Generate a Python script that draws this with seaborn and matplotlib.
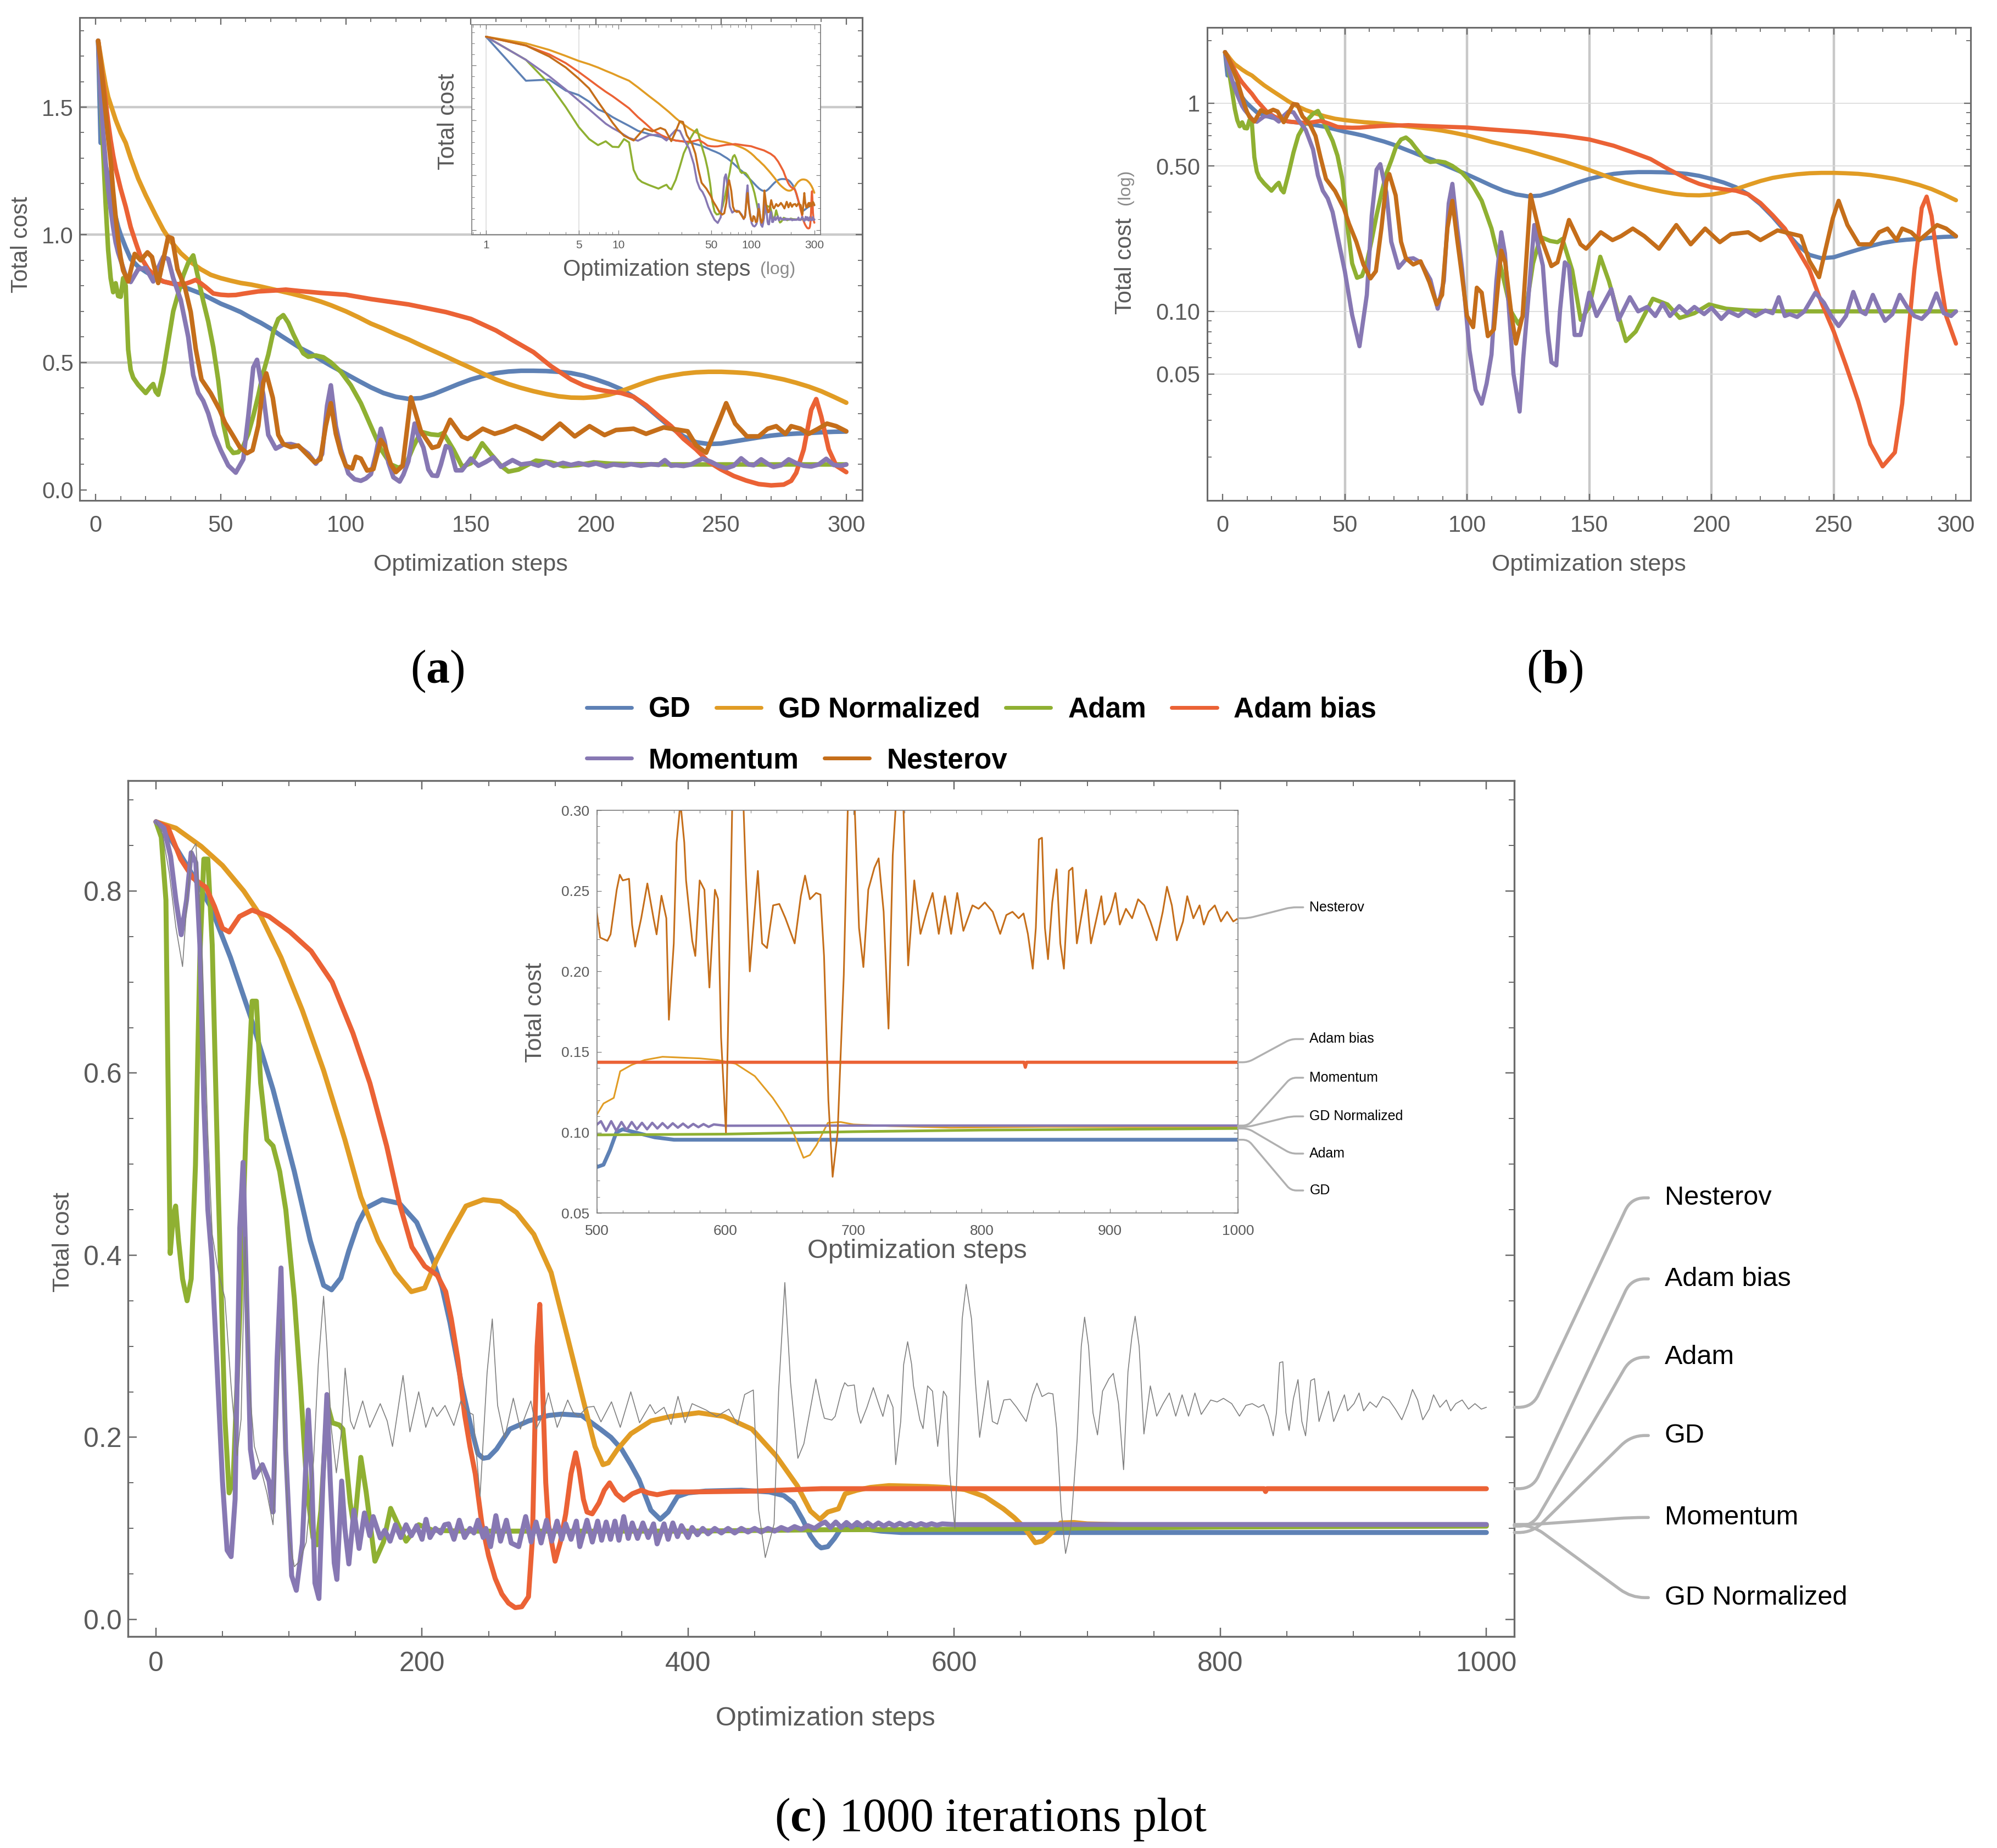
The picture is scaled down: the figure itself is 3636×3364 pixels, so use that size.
import matplotlib
matplotlib.use("Agg")
import matplotlib.pyplot as plt
import seaborn as sns
from matplotlib.lines import Line2D
from matplotlib.ticker import MultipleLocator, FixedLocator, FixedFormatter, NullFormatter, LogLocator

sns.set_theme(style="white")
plt.rcParams["font.family"] = ["Liberation Sans", "DejaVu Sans"]
plt.rcParams["mathtext.fontset"] = "custom"
plt.rcParams["mathtext.rm"] = "Liberation Serif"
plt.rcParams["mathtext.bf"] = "Liberation Serif:bold"

METHODS = ["GD", "GD Normalized", "Adam", "Adam bias", "Momentum", "Nesterov"]
COLORS = ["#5e81b5", "#e19c24", "#8fb032", "#eb6235", "#8778b3", "#c56e1a"]
TEXT = "#5a5a5a"
FRAME = "#6b6b6b"

# ---- 300 step run, panels (a) and (b): (step, total cost)
GD_300 = [(1, 1.76), (2, 1.36), (3, 1.37), (4, 1.27), (5, 1.23), (6, 1.17), (7, 1.10), (8, 1.07), (9, 1.03),
          (10, 1.0), (12, 0.95), (14, 0.905), (17, 0.875), (20, 0.855), (24, 0.832), (27, 0.817), (30, 0.81),
          (34, 0.80), (38, 0.785), (42, 0.77), (46, 0.75), (50, 0.73), (54, 0.714), (58, 0.697), (62, 0.675),
          (66, 0.655), (70, 0.632), (74, 0.605), (78, 0.58), (82, 0.555), (86, 0.535), (90, 0.51), (94, 0.487),
          (100, 0.455), (105, 0.428), (110, 0.402), (115, 0.38), (120, 0.365), (125, 0.357), (130, 0.36),
          (135, 0.375), (140, 0.395), (145, 0.415), (150, 0.433), (155, 0.447), (160, 0.458), (165, 0.464),
          (170, 0.467), (175, 0.467), (180, 0.466), (185, 0.463), (190, 0.458), (195, 0.448), (200, 0.433),
          (205, 0.416), (210, 0.395), (215, 0.365), (220, 0.327), (225, 0.285), (230, 0.244), (235, 0.21),
          (240, 0.187), (245, 0.18), (250, 0.182), (255, 0.19), (260, 0.198), (265, 0.206), (270, 0.213),
          (275, 0.218), (280, 0.221), (285, 0.223), (290, 0.226), (295, 0.228), (300, 0.229)]
GDN_300 = [(1, 1.76), (2, 1.70), (3, 1.64), (4, 1.585), (5, 1.54), (6, 1.51), (7, 1.48), (8, 1.45), (9, 1.425),
           (10, 1.40), (12, 1.36), (14, 1.30), (17, 1.22), (20, 1.155), (24, 1.076), (27, 1.02), (30, 0.975),
           (34, 0.928), (38, 0.893), (42, 0.865), (46, 0.843), (50, 0.83), (54, 0.82), (58, 0.811), (62, 0.805),
           (66, 0.797), (70, 0.788), (74, 0.779), (78, 0.77), (82, 0.76), (86, 0.75), (90, 0.738), (94, 0.724),
           (100, 0.7), (105, 0.677), (110, 0.652), (115, 0.632), (120, 0.61), (125, 0.59), (130, 0.567),
           (135, 0.545), (140, 0.523), (145, 0.5), (150, 0.478), (155, 0.455), (160, 0.433), (165, 0.415),
           (170, 0.4), (175, 0.387), (180, 0.376), (185, 0.367), (190, 0.362), (195, 0.361), (200, 0.364),
           (205, 0.373), (210, 0.387), (215, 0.405), (220, 0.423), (225, 0.438), (230, 0.448), (235, 0.456),
           (240, 0.461), (245, 0.463), (250, 0.463), (255, 0.461), (260, 0.458), (265, 0.452), (270, 0.443),
           (275, 0.433), (280, 0.42), (285, 0.405), (290, 0.387), (295, 0.365), (300, 0.342)]
ADAM_300 = [(1, 1.76), (2, 1.55), (3, 1.33), (4, 1.12), (5, 0.94), (6, 0.83), (7, 0.775), (8, 0.81), (9, 0.76),
            (10, 0.757), (11, 0.83), (12, 0.80), (13, 0.55), (14, 0.47), (15, 0.44), (17, 0.412), (20, 0.38),
            (22, 0.405), (23, 0.415), (24, 0.385), (25, 0.373), (27, 0.46), (29, 0.58), (31, 0.7), (33, 0.77),
            (35, 0.84), (37, 0.89), (39, 0.919), (41, 0.83), (43, 0.74), (45, 0.66), (47, 0.56), (49, 0.43),
            (51, 0.26), (53, 0.17), (55, 0.145), (57, 0.148), (59, 0.172), (61, 0.22), (63, 0.29), (65, 0.37),
            (67, 0.46), (69, 0.53), (71, 0.62), (73, 0.67), (75, 0.685), (77, 0.655), (79, 0.61), (81, 0.57),
            (83, 0.535), (85, 0.522), (88, 0.527), (91, 0.52), (94, 0.5), (98, 0.463), (102, 0.41), (106, 0.34),
            (110, 0.25), (114, 0.16), (118, 0.1), (121, 0.087), (124, 0.1), (127, 0.17), (130, 0.228),
            (134, 0.218), (137, 0.215), (139, 0.223), (143, 0.158), (146.5, 0.091), (150, 0.105), (154.5, 0.183),
            (158, 0.14), (162, 0.095), (165, 0.072), (169, 0.08), (176, 0.115), (182, 0.108), (187, 0.093),
            (193, 0.098), (199, 0.108), (206, 0.103), (215, 0.101), (230, 0.1), (250, 0.1), (270, 0.1), (300, 0.1)]
ADAMB_300 = [(1, 1.76), (2, 1.68), (3, 1.60), (4, 1.52), (5, 1.44), (6, 1.37), (7, 1.31), (8, 1.26), (9, 1.22),
             (10, 1.18), (12, 1.11), (14, 1.03), (16, 0.97), (18, 0.913), (21, 0.865), (24, 0.835), (27, 0.817),
             (31, 0.808), (35, 0.805), (38, 0.815), (40, 0.823), (42, 0.81), (44, 0.795), (47, 0.77), (50, 0.765),
             (53, 0.763), (56, 0.764), (59, 0.769), (65, 0.778), (72, 0.782), (76, 0.785), (82, 0.779),
             (90, 0.772), (100, 0.765), (110, 0.748), (125, 0.727), (140, 0.697), (150, 0.67), (160, 0.625),
             (167, 0.585), (175, 0.54), (182, 0.485), (190, 0.433), (195, 0.41), (200, 0.395), (205, 0.386),
             (210, 0.38), (215, 0.365), (220, 0.332), (225, 0.29), (230, 0.25), (235, 0.2), (240, 0.159),
             (245, 0.11), (250, 0.08), (255, 0.055), (260, 0.037), (265, 0.023), (270, 0.018), (275, 0.021),
             (278, 0.036), (280, 0.067), (283, 0.159), (286, 0.314), (288, 0.356), (290, 0.288), (293, 0.159),
             (296, 0.095), (300, 0.07)]
MOM_300 = [(1, 1.76), (2, 1.55), (3, 1.40), (4, 1.28), (5, 1.18), (6, 1.10), (7, 1.03), (8, 0.97), (9, 0.93),
           (10, 0.90), (12, 0.84), (14, 0.815), (17, 0.865), (20, 0.87), (23, 0.817), (25, 0.87), (27, 0.913),
           (29, 0.905), (31, 0.83), (34, 0.745), (37, 0.6), (39, 0.45), (41, 0.38), (43, 0.349), (45, 0.3),
           (47.5, 0.216), (50, 0.156), (53, 0.096), (56, 0.068), (59, 0.12), (61, 0.288), (63, 0.48),
           (64.5, 0.51), (67, 0.373), (69, 0.216), (72, 0.162), (75, 0.178), (78, 0.18), (81, 0.172),
           (85, 0.142), (88, 0.103), (90.5, 0.14), (92.5, 0.33), (94, 0.41), (96, 0.25), (98, 0.159),
           (101, 0.065), (103.5, 0.042), (106, 0.036), (108, 0.045), (110, 0.062), (112, 0.14), (114, 0.24),
           (115.5, 0.19), (117, 0.108), (119, 0.05), (121.5, 0.033), (123, 0.06), (125, 0.113), (127.5, 0.26),
           (129, 0.21), (131, 0.166), (133, 0.08), (134.5, 0.057), (136.5, 0.055), (138, 0.1), (140, 0.172),
           (141.7, 0.164), (144, 0.077), (146.4, 0.077), (150, 0.123), (153, 0.095), (156, 0.11), (159, 0.128),
           (162, 0.091), (166.6, 0.117), (170, 0.1), (173.7, 0.105), (177, 0.095), (180, 0.109), (183, 0.095),
           (186.8, 0.106), (190, 0.098), (193, 0.105), (197, 0.097), (200, 0.104), (204, 0.092), (207, 0.1),
           (211, 0.095), (214, 0.101), (218, 0.095), (222, 0.101), (225, 0.098), (227.5, 0.117), (230, 0.095),
           (232, 0.097), (235, 0.094), (238, 0.1), (242.5, 0.123), (246, 0.11), (249, 0.095), (252, 0.085),
           (255, 0.095), (258, 0.124), (261, 0.1), (263, 0.097), (266, 0.12), (269, 0.1), (271, 0.09),
           (274, 0.097), (277, 0.12), (280, 0.105), (283, 0.095), (286, 0.092), (289, 0.1), (292, 0.122),
           (295, 0.098), (298, 0.095), (300, 0.1)]
NEST_300 = [(1, 1.76), (2, 1.68), (3, 1.58), (4, 1.48), (5, 1.38), (6, 1.29), (7, 1.17), (8, 1.07), (9, 0.98),
            (10, 0.91), (11, 0.86), (13, 0.817), (15.6, 0.925), (18, 0.9), (20.7, 0.931), (22.5, 0.913),
            (25, 0.811), (27, 0.9), (29, 0.992), (30.6, 0.986), (32.7, 0.865), (35.7, 0.793), (38, 0.697),
            (40, 0.553), (42.3, 0.433), (46, 0.379), (49.6, 0.313), (51.7, 0.264), (54.7, 0.216), (57.6, 0.168),
            (60.5, 0.144), (62.7, 0.156), (65, 0.252), (67, 0.421), (68.2, 0.457), (70.8, 0.361), (73, 0.216),
            (75, 0.18), (78, 0.168), (81, 0.174), (84.6, 0.138), (87.6, 0.108), (89.8, 0.12), (92, 0.252),
            (94, 0.34), (96, 0.22), (98, 0.146), (100, 0.095), (102.5, 0.084), (104, 0.13), (106, 0.123),
            (108.5, 0.076), (111, 0.082), (114, 0.196), (115.6, 0.172), (118, 0.1), (120, 0.07), (122.7, 0.095),
            (126, 0.363), (130, 0.23), (134.5, 0.165), (137, 0.172), (141.7, 0.275), (146.4, 0.21),
            (148.7, 0.2), (154.7, 0.24), (159.5, 0.22), (163, 0.23), (167.8, 0.25), (172.5, 0.23),
            (178.5, 0.2), (185.6, 0.26), (191.5, 0.21), (197.4, 0.25), (203.4, 0.215), (208, 0.235),
            (215, 0.24), (220, 0.22), (227, 0.245), (236.6, 0.23), (240, 0.175), (244, 0.146), (249.6, 0.28),
            (252, 0.34), (255.6, 0.26), (260.3, 0.21), (265, 0.21), (268.6, 0.24), (272, 0.25), (275.7, 0.22),
            (278, 0.25), (281.7, 0.24), (285, 0.22), (288.8, 0.24), (292.3, 0.26), (296, 0.25), (300, 0.23)]

# ---- 1000 step run, panel (c)
GD_1K = [(0, 0.876), (9, 0.862), (25, 0.824), (41, 0.783), (56, 0.727), (72, 0.658), (88, 0.582), (104, 0.492),
         (116, 0.416), (126, 0.367), (132, 0.362), (139, 0.375), (145, 0.405), (152, 0.435), (158, 0.452),
         (170, 0.461), (183, 0.457), (196, 0.436), (208, 0.395), (215, 0.365), (221, 0.326), (230, 0.256),
         (237, 0.21), (242, 0.182), (246, 0.177), (250, 0.178), (256, 0.187), (266, 0.209), (280, 0.218),
         (295, 0.224), (305, 0.2255), (320, 0.224), (334, 0.209), (342, 0.2), (350, 0.187), (357, 0.17),
         (363, 0.154), (372, 0.12), (379, 0.11), (385, 0.118), (392, 0.135), (400, 0.139), (413, 0.141),
         (440, 0.142), (461, 0.14), (472, 0.136), (479, 0.128), (486, 0.11), (492, 0.092), (497, 0.082),
         (500, 0.0786), (505, 0.08), (510, 0.089), (515, 0.1), (520, 0.102), (530, 0.1), (545, 0.097),
         (560, 0.0955), (700, 0.0955), (850, 0.0955), (1000, 0.0955)]
GDN_1K = [(0, 0.876), (15, 0.869), (34, 0.849), (50, 0.828), (66, 0.8), (79, 0.772), (94, 0.727), (110, 0.669),
          (126, 0.603), (142, 0.527), (154, 0.464), (167, 0.416), (180, 0.381), (192, 0.36), (202, 0.364),
          (211, 0.395), (221, 0.423), (233, 0.454), (246, 0.461), (259, 0.459), (271, 0.447), (284, 0.423),
          (297, 0.381), (309, 0.312), (322, 0.236), (330, 0.19), (336, 0.17), (340, 0.172), (347, 0.187),
          (357, 0.204), (372, 0.218), (387, 0.223), (408, 0.227), (427, 0.223), (448, 0.209), (466, 0.18),
          (482, 0.147), (492, 0.119), (499, 0.11), (505, 0.118), (513, 0.1215), (518, 0.138), (527, 0.142),
          (537, 0.145), (551, 0.147), (580, 0.146), (594, 0.145), (608, 0.1427), (623, 0.135), (637, 0.1215),
          (645, 0.112), (652, 0.102), (661, 0.0843), (666, 0.086), (671, 0.092), (680, 0.106), (690, 0.1065),
          (700, 0.105), (728, 0.104), (776, 0.103), (850, 0.1035), (1000, 0.1035)]
ADAM_1K = [(0, 0.876), (4, 0.859), (7.5, 0.79), (9, 0.603), (10.7, 0.402), (13, 0.443), (14.8, 0.454),
           (17, 0.416), (20, 0.374), (23.4, 0.35), (26.5, 0.374), (29.7, 0.499), (33, 0.727), (36, 0.835),
           (39, 0.835), (42.3, 0.741), (47, 0.464), (51.8, 0.222), (55, 0.139), (58, 0.152), (62.8, 0.326),
           (67.6, 0.533), (72.3, 0.679), (75.5, 0.679), (78.7, 0.589), (83.4, 0.527), (88, 0.52), (93, 0.492),
           (97.6, 0.45), (104, 0.353), (108.7, 0.256), (113.4, 0.145), (118, 0.09), (121, 0.082), (124, 0.12),
           (128.7, 0.237), (132.6, 0.216), (137.8, 0.2136), (140.5, 0.209), (146, 0.128), (149, 0.1),
           (154, 0.178), (158, 0.14), (164.6, 0.064), (171, 0.085), (176.4, 0.122), (183, 0.101), (188, 0.086),
           (197.5, 0.104), (208, 0.098), (230, 0.097), (300, 0.097), (400, 0.097), (500, 0.0985), (600, 0.099),
           (700, 0.1005), (800, 0.1015), (900, 0.102), (1000, 0.1025)]
ADAMB_1K = [(0, 0.876), (9, 0.87), (18.6, 0.835), (28, 0.814), (37.6, 0.804), (44, 0.783), (50, 0.759),
            (55, 0.755), (62.8, 0.772), (72.3, 0.779), (85, 0.772), (100.8, 0.755), (116.6, 0.734),
            (132.4, 0.7), (148, 0.644), (160.8, 0.589), (173.4, 0.52), (183, 0.457), (192.4, 0.409),
            (202, 0.388), (211.4, 0.378), (217.8, 0.36), (222, 0.33), (227, 0.285), (232, 0.225), (236, 0.19),
            (240, 0.16), (245, 0.105), (250, 0.07), (255, 0.045), (260, 0.028), (265, 0.018), (270, 0.013),
            (275, 0.014), (280, 0.025), (283, 0.09), (285, 0.223), (286.5, 0.3), (288.5, 0.346), (290.5, 0.26),
            (293, 0.15), (295, 0.104), (300, 0.064), (304, 0.085), (308, 0.116), (312, 0.16), (315.5, 0.183),
            (318, 0.165), (321.3, 0.132), (324, 0.118), (327.9, 0.116), (333, 0.128), (337, 0.142),
            (341, 0.15), (346, 0.138), (351.6, 0.131), (358, 0.138), (364.8, 0.142), (370, 0.139),
            (376.7, 0.137), (387, 0.14), (400, 0.14), (450, 0.141), (500, 0.1436), (833, 0.1436),
            (834, 0.1405), (835, 0.1436), (1000, 0.1436)]
MOM_1K = [(0, 0.876), (6, 0.869), (11, 0.838), (15, 0.79), (19, 0.752), (23, 0.79), (26.5, 0.842), (30, 0.831),
          (33, 0.741), (36, 0.568), (39, 0.45), (42, 0.395), (45.5, 0.291), (50, 0.152), (53.5, 0.076),
          (56.5, 0.069), (59.5, 0.132), (63, 0.43), (65.5, 0.502), (67.5, 0.395), (71, 0.187), (74, 0.156),
          (80, 0.17), (85, 0.152), (88, 0.118), (91, 0.284), (94, 0.386), (97.5, 0.187), (102, 0.048),
          (105.5, 0.032), (110, 0.083), (114.5, 0.23), (117, 0.16), (119.5, 0.04), (122.5, 0.023),
          (125.5, 0.152), (128.5, 0.247), (131, 0.152), (134, 0.062), (136, 0.044), (139.6, 0.152), (142, 0.1),
          (145, 0.061), (148.8, 0.12), (152.7, 0.078), (156.7, 0.117), (160.7, 0.092), (163.3, 0.113),
          (168.6, 0.0895), (172, 0.098), (176, 0.086), (180, 0.104), (184, 0.09), (188, 0.104), (192, 0.092),
          (196, 0.103), (200, 0.088), (203, 0.11), (206, 0.09), (210, 0.1), (214, 0.095), (217, 0.104),
          (220, 0.105), (224, 0.088), (228, 0.109), (232, 0.09), (236, 0.1), (239, 0.095), (242, 0.109),
          (246, 0.09), (248, 0.1), (251.5, 0.08), (255.5, 0.114), (259, 0.086), (263.4, 0.109), (267, 0.084),
          (272.6, 0.08), (277.9, 0.113), (282, 0.085), (285.7, 0.107), (289.5, 0.084), (293.6, 0.109),
          (297.5, 0.086), (301.5, 0.108), (305, 0.088), (308, 0.105), (312, 0.088), (316, 0.108),
          (318.6, 0.08), (324, 0.109), (328, 0.085), (332, 0.108), (335, 0.087), (338.4, 0.107),
          (341.7, 0.088), (345, 0.108), (348, 0.087), (351.6, 0.113), (355, 0.089), (358, 0.106),
          (362, 0.089), (366, 0.106), (370, 0.09), (374, 0.105), (376.7, 0.083), (381.9, 0.105), (385, 0.088),
          (388.5, 0.106), (392, 0.091), (395, 0.103), (400, 0.09), (403, 0.101), (407, 0.093), (411, 0.1),
          (415, 0.094), (420, 0.1), (425, 0.095), (430, 0.1), (435, 0.095), (440, 0.1), (445, 0.096),
          (450, 0.1), (455, 0.096), (460, 0.1), (465, 0.097), (470, 0.101), (475, 0.098), (480, 0.102),
          (485, 0.099), (490, 0.103), (495, 0.1), (500, 0.105), (503, 0.107), (507, 0.101), (511, 0.107),
          (515, 0.101), (519, 0.1065), (523, 0.1015), (527, 0.1065), (531, 0.102), (535, 0.106), (539, 0.102),
          (543, 0.106), (547, 0.1025), (551, 0.1058), (555, 0.1027), (559, 0.1057), (563, 0.103),
          (567, 0.1055), (571, 0.103), (575, 0.1053), (579, 0.1033), (583, 0.1052), (587, 0.1035),
          (591, 0.105), (600, 0.1042), (700, 0.1043), (850, 0.1043), (1000, 0.1043)]
NEST_1K = [(0, 0.876), (5, 0.862), (10, 0.82), (15, 0.76), (20, 0.717), (23.4, 0.79), (27, 0.845), (30, 0.852),
           (34.4, 0.748), (39, 0.533), (42.3, 0.423), (47, 0.381), (51.8, 0.353), (56.5, 0.256), (61, 0.18),
           (64, 0.22), (67, 0.42), (70, 0.26), (74, 0.19), (78.7, 0.166), (83.4, 0.139), (88, 0.104), (91, 0.2),
           (94, 0.33), (97.5, 0.17), (100, 0.09), (104, 0.058), (108, 0.064), (113, 0.085), (118.5, 0.175),
           (122, 0.28), (126, 0.355), (128.5, 0.3), (131.9, 0.209), (135.6, 0.161), (139.6, 0.209),
           (142.2, 0.276), (146.2, 0.218), (148.8, 0.209), (155.4, 0.24), (160.7, 0.211), (168.6, 0.237),
           (173.8, 0.218), (177.8, 0.19), (185.7, 0.268), (190.9, 0.206), (197.5, 0.25), (202.8, 0.211),
           (208, 0.233), (211.2, 0.223), (217.3, 0.235), (223.9, 0.213), (229.2, 0.24), (234.4, 0.228),
           (238.4, 0.225), (243.6, 0.135), (248.9, 0.271), (252.8, 0.33), (256.8, 0.235), (262, 0.199),
           (268.6, 0.243), (273.9, 0.209), (281.8, 0.24), (285.8, 0.209), (291, 0.225), (295, 0.249),
           (301.6, 0.211), (309.5, 0.241), (313.4, 0.228), (317.4, 0.223), (324, 0.233), (329.2, 0.234),
           (334.5, 0.217), (342.4, 0.239), (349, 0.211), (356.9, 0.25), (363.5, 0.216), (371.4, 0.236),
           (375.3, 0.226), (381.9, 0.233), (387.2, 0.214), (392.4, 0.245), (397.7, 0.216), (403, 0.237),
           (413.5, 0.23), (421.4, 0.223), (430.6, 0.231), (437.2, 0.214), (442.5, 0.247), (449, 0.252),
           (453, 0.12), (458, 0.068), (464.6, 0.105), (468, 0.25), (472.7, 0.37), (477, 0.26), (482.5, 0.177),
           (487, 0.193), (496, 0.264), (500, 0.235), (502.4, 0.221), (508, 0.219), (510.5, 0.223),
           (515.3, 0.2507), (517.7, 0.26), (520, 0.2565), (524.9, 0.2575), (527.3, 0.229), (529.7, 0.2154),
           (534.4, 0.233), (539.2, 0.2546), (544, 0.233), (546.4, 0.223), (550.2, 0.247), (554, 0.233),
           (556, 0.17), (559.8, 0.2174), (562, 0.28), (565, 0.305), (568, 0.28), (569.4, 0.2565),
           (574.2, 0.219), (576.6, 0.2096), (580, 0.2565), (583.7, 0.2507), (587.6, 0.19), (591.9, 0.2507),
           (594.3, 0.245), (596.7, 0.159), (600.5, 0.1), (603.5, 0.22), (606, 0.33), (609, 0.368),
           (613, 0.33), (616, 0.26), (619.1, 0.2), (625.4, 0.2624), (628.7, 0.2174), (632.5, 0.2145),
           (637.3, 0.241), (642.1, 0.2419), (646.9, 0.233), (654.1, 0.2174), (658.9, 0.2467), (662.2, 0.2595),
           (666, 0.2448), (670.8, 0.2487), (674.2, 0.2477), (677, 0.2096), (680.4, 0.12), (683.7, 0.0725),
           (687.6, 0.1), (692.4, 0.1978), (695.5, 0.3), (698, 0.332), (701, 0.3), (704.3, 0.227),
           (707.7, 0.2027), (711.5, 0.2507), (716.3, 0.2644), (719.6, 0.2702), (723.5, 0.237), (727.3, 0.1645),
           (730.6, 0.272), (733.5, 0.31), (736, 0.333), (739, 0.3), (742.6, 0.2037), (747.4, 0.2565),
           (752.2, 0.2233), (757, 0.237), (761.7, 0.2487), (766.5, 0.2233), (771.3, 0.2467), (776.1, 0.2233),
           (780.9, 0.2487), (785.7, 0.2252), (792.8, 0.241), (797.6, 0.2389), (802.4, 0.2428), (808.6, 0.237),
           (814.4, 0.2233), (819.2, 0.235), (824, 0.237), (828.8, 0.233), (832.6, 0.236), (836, 0.2233),
           (839.8, 0.2017), (842.2, 0.227), (844.6, 0.282), (847, 0.283), (849.3, 0.227), (851.7, 0.2076),
           (855, 0.2428), (858.4, 0.2634), (861.3, 0.2174), (864.1, 0.2017), (868, 0.2624), (870.8, 0.2644),
           (874.2, 0.2174), (877.5, 0.233), (881.4, 0.2507), (885.2, 0.2174), (889, 0.231), (893.3, 0.2467),
           (895.7, 0.2291), (900.5, 0.237), (904.3, 0.2487), (907.7, 0.2291), (912.5, 0.2389), (917.3, 0.233),
           (922, 0.2448), (926.8, 0.241), (931.6, 0.231), (936.4, 0.2193), (941.2, 0.237), (944.5, 0.2526),
           (948.3, 0.241), (952.2, 0.2193), (957, 0.231), (960.3, 0.2467), (965.1, 0.233), (969.9, 0.241),
           (973.2, 0.2291), (977, 0.237), (981.8, 0.241), (986.6, 0.231), (991.4, 0.237), (996.2, 0.231),
           (1000, 0.233)]

RUN_300 = [GD_300, GDN_300, ADAM_300, ADAMB_300, MOM_300, NEST_300]
RUN_1K = [GD_1K, GDN_1K, ADAM_1K, ADAMB_1K, MOM_1K, NEST_1K]

# label stacks beside panel (c) and its inset (top to bottom)
MAIN_LABELS = ["Nesterov", "Adam bias", "Adam", "GD", "Momentum", "GD Normalized"]
MAIN_LABEL_Y = [0.463, 0.374, 0.288, 0.202, 0.112, 0.024]
INSET_LABELS = ["Nesterov", "Adam bias", "Momentum", "GD Normalized", "Adam", "GD"]
INSET_LABEL_Y = [0.2398, 0.158, 0.134, 0.110, 0.0869, 0.064]


def draw(ax, series, color, lw):
    xs = [p[0] for p in series]
    ys = [p[1] for p in series]
    sns.lineplot(x=xs, y=ys, ax=ax, color=color, linewidth=lw, estimator=None,
                 sort=False, legend=False)


def frame(ax, lw, major, minor, size, xpad, ypad, color=FRAME):
    for s in ax.spines.values():
        s.set_visible(True)
        s.set_color(color)
        s.set_linewidth(lw)
    ax.tick_params(which="both", direction="in", top=True, right=True, bottom=True, left=True,
                   color=color, labelcolor=TEXT, labelsize=size)
    ax.tick_params(which="major", length=major, width=lw * 0.75)
    ax.tick_params(which="minor", length=minor, width=lw * 0.6)
    ax.tick_params(axis="x", pad=xpad)
    ax.tick_params(axis="y", pad=ypad)
    ax.set_facecolor("white")


def place_labels(ax, xlabel, ylabel, xpos, ypos, xsize, ysize):
    ax.set_xlabel(xlabel, fontsize=xsize, color=TEXT)
    ax.set_ylabel(ylabel, fontsize=ysize, color=TEXT)
    ax.xaxis.set_label_coords(*xpos)
    ax.yaxis.set_label_coords(*ypos)
    ax.xaxis.label.set_va("center")
    ax.yaxis.label.set_va("center")


fig = plt.figure(figsize=(36.36, 33.64), dpi=100)

# ---------- (a) linear, 300 steps
ax_a = fig.add_axes([0.03988, 0.7292, 0.3919, 0.2613])
for y in [0.5, 1.0, 1.5]:
    ax_a.axhline(y, color="#cacaca", lw=3.2, zorder=0)
for ser, c in zip(RUN_300, COLORS):
    draw(ax_a, ser, c, 6)
ax_a.set_xlim(-6.4, 306.4)
ax_a.set_ylim(-0.041, 1.851)
ax_a.xaxis.set_major_locator(MultipleLocator(50))
ax_a.xaxis.set_minor_locator(MultipleLocator(10))
ax_a.yaxis.set_major_locator(MultipleLocator(0.5))
ax_a.yaxis.set_minor_locator(MultipleLocator(0.1))
frame(ax_a, 2.2, 9, 5.5, 30, 19, 8)
place_labels(ax_a, "Optimization steps", "Total cost", (0.4996, -0.133), (-0.0744, 0.53), 31, 30)

# inset of (a): log steps
ax_ai = fig.add_axes([0.2362, 0.8731, 0.1746, 0.1136])
for x in [1, 5]:
    ax_ai.axvline(x, color="#dddddd", lw=1.2, zorder=0)
for ser, c in zip(RUN_300, COLORS):
    draw(ax_ai, ser, c, 2.6)
ax_ai.set_xscale("log")
ax_ai.set_xlim(0.78, 333)
ax_ai.set_ylim(-0.037, 1.87)
ax_ai.xaxis.set_major_locator(FixedLocator([1, 5, 10, 50, 100, 300]))
ax_ai.xaxis.set_major_formatter(FixedFormatter(["1", "5", "10", "50", "100", "300"]))
ax_ai.xaxis.set_minor_locator(LogLocator(subs=range(2, 10)))
ax_ai.xaxis.set_minor_formatter(NullFormatter())
ax_ai.yaxis.set_major_locator(MultipleLocator(0.5))
ax_ai.yaxis.set_minor_locator(MultipleLocator(0.1))
ax_ai.yaxis.set_major_formatter(NullFormatter())
frame(ax_ai, 1.2, 6, 3.5, 15, 7, 4, color="#7a7a7a")
place_labels(ax_ai, "Optimization steps", "Total cost", (0.53, -0.1675), (-0.0677, 0.539), 30, 30)
ax_ai.text(0.8268, -0.1675, "(log)", transform=ax_ai.transAxes, fontsize=23, color="#8a8a8a",
           ha="left", va="center")

# ---------- (b) log cost, 300 steps
ax_b = fig.add_axes([0.6045, 0.7293, 0.3823, 0.2557])
ax_b.set_yscale("log")
for x in [50, 100, 150, 200, 250]:
    ax_b.axvline(x, color="#c8c8c8", lw=3.2, zorder=0)
for ser, c in zip(RUN_300, COLORS):
    draw(ax_b, ser, c, 5.5)
ax_b.set_xlim(-6.3, 306)
ax_b.set_ylim(0.01237, 2.307)
ax_b.xaxis.set_major_locator(MultipleLocator(50))
ax_b.xaxis.set_minor_locator(MultipleLocator(10))
ax_b.yaxis.set_major_locator(FixedLocator([0.05, 0.1, 0.5, 1]))
ax_b.yaxis.set_major_formatter(FixedFormatter(["0.05", "0.10", "0.50", "1"]))
ax_b.yaxis.set_minor_locator(LogLocator(subs=range(2, 10)))
ax_b.yaxis.set_minor_formatter(NullFormatter())
ax_b.grid(axis="y", which="major", color="#d9d9d9", lw=1.2, zorder=0)
ax_b.set_axisbelow(True)
frame(ax_b, 2.2, 9, 5.5, 30, 19, 9)
place_labels(ax_b, "Optimization steps", "Total cost", (0.5, -0.1365), (-0.107, 0.496), 31, 30)
ax_b.text(-0.107, 0.662, "(log)", transform=ax_b.transAxes, fontsize=23, color="#8a8a8a",
          rotation=90, ha="center", va="center")

# ---------- (c) 1000 steps
ax_c = fig.add_axes([0.0641, 0.1144, 0.6942, 0.4631])
main_lw = [6.5, 6.5, 6.5, 6.5, 6.5, 1.2]
main_col = COLORS[:5] + ["#7f7f7f"]
for ser, c, lw in zip(RUN_1K, main_col, main_lw):
    draw(ax_c, ser, c, lw)
ax_c.set_xlim(-21, 1021)
ax_c.set_ylim(-0.0188, 0.921)
ax_c.xaxis.set_major_locator(MultipleLocator(200))
ax_c.xaxis.set_minor_locator(MultipleLocator(50))
ax_c.yaxis.set_major_locator(MultipleLocator(0.2))
ax_c.yaxis.set_minor_locator(MultipleLocator(0.05))
frame(ax_c, 2.4, 11.5, 7, 36, 19.5, 8)
place_labels(ax_c, "Optimization steps", "Total cost", (0.503, -0.0956), (-0.0468, 0.461), 35, 31)

ends_1k = {m: s[-1][1] for m, s in zip(METHODS, RUN_1K)}
for name, ly in zip(MAIN_LABELS, MAIN_LABEL_Y):
    ax_c.annotate(name, xy=(1021, ends_1k[name]), xycoords="data", xytext=(1134, ly), textcoords="data",
                  ha="left", va="center", fontsize=35, color="black", annotation_clip=False,
                  arrowprops=dict(arrowstyle="-", color="#b4b4b4", lw=4, shrinkA=19, shrinkB=0,
                                  relpos=(0, 0.5),
                                  connectionstyle="arc,angleA=180,armA=61,angleB=0,armB=33,rad=25"))

# inset of (c): steps 500-1000
ax_ci = fig.add_axes([0.299, 0.3436, 0.321, 0.2179])
inset_lw = [5, 2.2, 3.5, 4.2, 3.2, 2.2]
for ser, c, lw in zip(RUN_1K, COLORS, inset_lw):
    draw(ax_ci, ser, c, lw)
ax_ci.set_xlim(500, 1000)
ax_ci.set_ylim(0.05, 0.30)
ax_ci.xaxis.set_major_locator(MultipleLocator(100))
ax_ci.xaxis.set_minor_locator(MultipleLocator(20))
ax_ci.yaxis.set_major_locator(MultipleLocator(0.05))
ax_ci.yaxis.set_minor_locator(MultipleLocator(0.01))
ax_ci.yaxis.set_major_formatter(matplotlib.ticker.FormatStrFormatter("%.2f"))
frame(ax_ci, 1.2, 6, 3.5, 19, 15, 10, color="#7a7a7a")
place_labels(ax_ci, "Optimization steps", "Total cost", (0.4996, -0.094), (-0.096, 0.498), 35, 31)
for name, ly in zip(INSET_LABELS, INSET_LABEL_Y):
    ax_ci.annotate(name, xy=(1000, ends_1k[name]), xycoords="data", xytext=(1055.7, ly), textcoords="data",
                   ha="left", va="center", fontsize=18, color="black", annotation_clip=False,
                   arrowprops=dict(arrowstyle="-", color="#b0b0b0", lw=2.5, shrinkA=6, shrinkB=0,
                                   relpos=(0, 0.5),
                                   connectionstyle="arc,angleA=180,armA=34,angleB=0,armB=18,rad=10"))

# ---------- legend (two rows, as in the figure)
handles = [Line2D([], [], color=c, lw=5) for c in COLORS]
leg_kw = dict(frameon=False, fontsize=37, handlelength=1.6, handletextpad=0.6, columnspacing=0.9,
              borderpad=0, borderaxespad=0, loc="center left",
              prop={"weight": "bold", "size": 37})
leg1 = fig.legend(handles[:4], METHODS[:4], ncol=4, bbox_to_anchor=(0.2937, 0.6159), **leg_kw)
leg2 = fig.legend(handles[4:], METHODS[4:], ncol=2, bbox_to_anchor=(0.2937, 0.5883), **leg_kw)
for leg in (leg1, leg2):
    for t in leg.get_texts():
        t.set_color("black")

# ---------- captions
cap = dict(fontsize=62, family="Liberation Serif", color="black", ha="center", va="center")
fig.text(0.2189, 0.6367, r"(${\bf a}$)", **cap)
fig.text(0.7786, 0.6367, r"(${\bf b}$)", **cap)
fig.text(0.4961, 0.01546, r"(${\bf c}$) 1000 iterations plot", **cap)

fig.savefig("out.png", dpi=100, facecolor="white")
